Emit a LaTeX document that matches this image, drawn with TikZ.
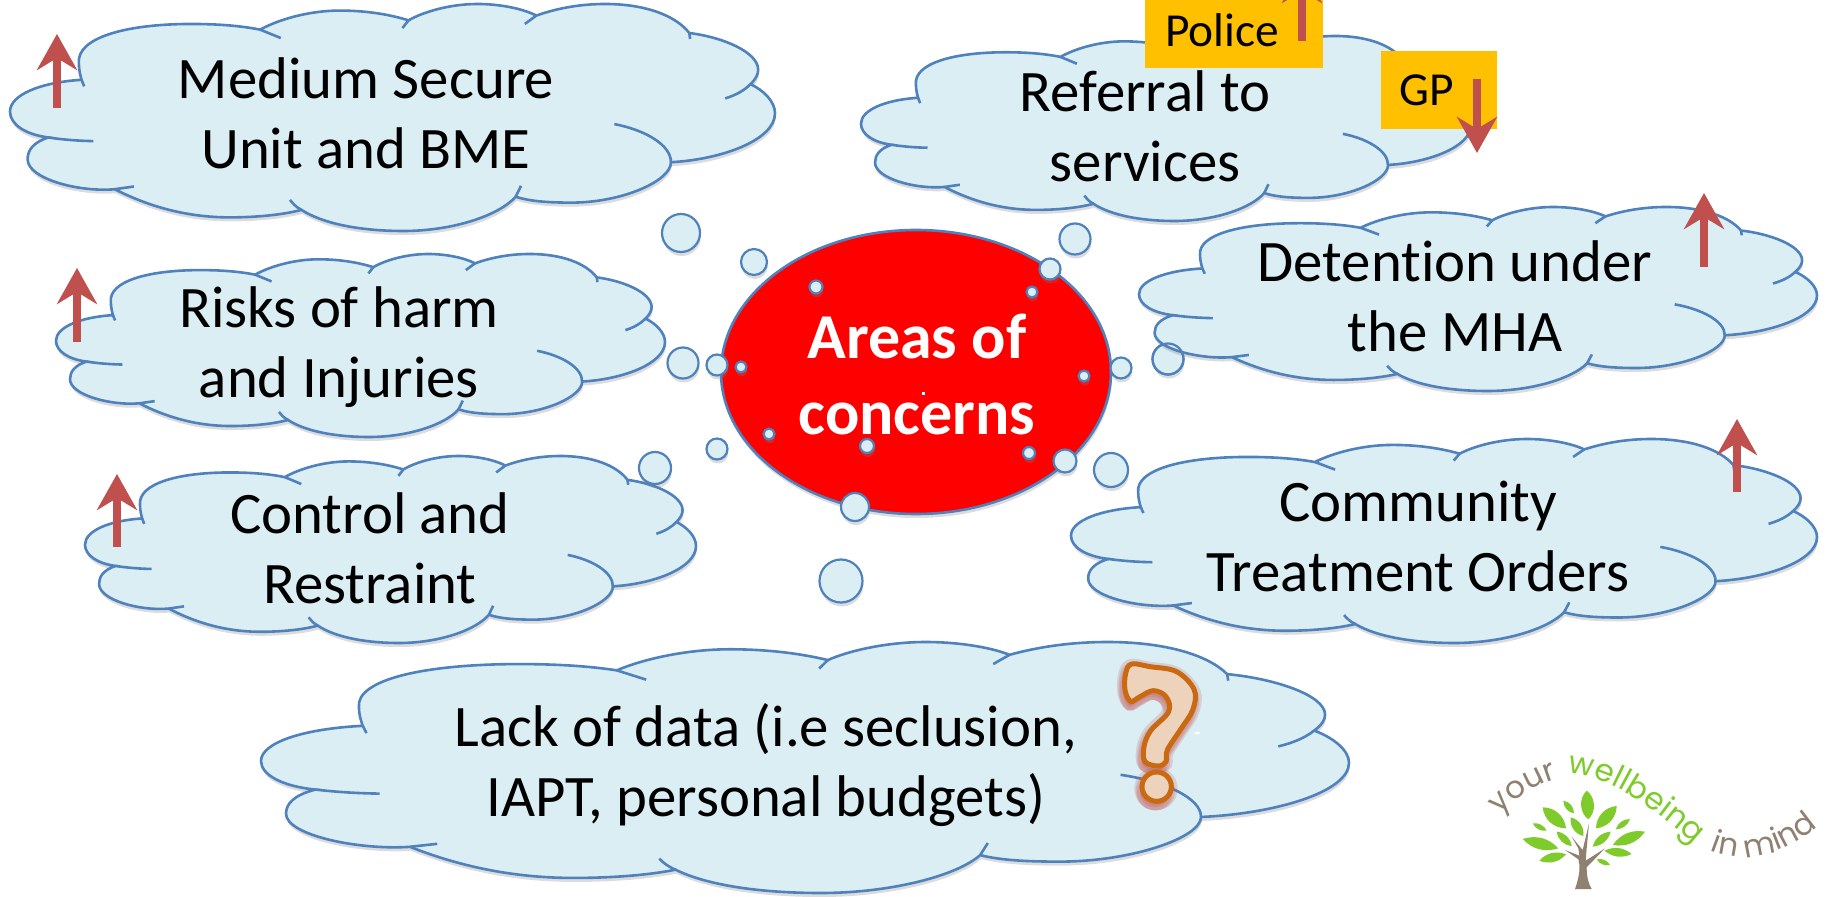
\documentclass[tikz,border=0pt]{standalone}
\usepackage{fontspec}
\setmainfont{Carlito}[Ligatures=NoCommon]
\newfontfamily\logofont{Poppins}
\usepackage{tikz}
\usetikzlibrary{arrows.meta}
\usetikzlibrary{shadows}
\usetikzlibrary{decorations.text}

\definecolor{cloudblue}{HTML}{DBEEF4}
\definecolor{edgeblue}{HTML}{4F81BD}
\definecolor{arrowred}{HTML}{C0504D}
\definecolor{tagamber}{HTML}{FFC000}
\definecolor{leafgreen}{HTML}{7FCB2B}
\definecolor{barkbrown}{HTML}{8F8070}
\definecolor{hookorange}{HTML}{C96A12}
\definecolor{hookpeach}{HTML}{EDD3BC}

\tikzset{
    softshadow/.style={drop shadow={opacity=0.28, shadow xshift=0.4pt, shadow yshift=-2pt}},
    cloudface/.style={draw=edgeblue, fill=cloudblue, line width=1.3pt, softshadow},
    cloudline/.style={draw=edgeblue, line width=1.3pt},
    bubble/.style={draw=edgeblue, fill=cloudblue, line width=1.1pt, softshadow},
    cloudtext/.style={align=center, font=\fontsize{29.4}{35}\selectfont, inner sep=0pt},
    tagbox/.style={fill=tagamber, inner sep=0pt},
    tagtext/.style={font=\fontsize{23.7}{26}\selectfont, inner sep=0pt},
    trend/.style={draw=arrowred, line width=4pt, -{Stealth[length=18pt, width=20pt, inset=6pt]}},
    leaf/.style={fill=leafgreen},
    hookshape/.style={draw=hookorange, fill=hookpeach, line width=2.5pt},
    hookglow/.style={draw=arrowred, fill=arrowred, opacity=0.2},
}

\newcommand{\cloudoutline}{(9.35,33.4)
    .. controls (4,34.5) and (0,40) .. (0,47.4)
    .. controls (0,53) and (2,57.5) .. (5,58.8)
    .. controls (3,61) and (2.3,64.5) .. (2.3,68.4)
    .. controls (2.3,77) and (9,83) .. (13.7,81.6)
    .. controls (18,89) and (23,94) .. (28.7,94)
    .. controls (32,94) and (35.5,93) .. (38.1,90.7)
    .. controls (41,97) and (46,100) .. (51.4,100)
    .. controls (58,100) and (64,93) .. (66.1,84.9)
    .. controls (68,87) and (70.5,87.5) .. (73.4,87.5)
    .. controls (80,87.5) and (86.4,78) .. (86.4,69.7)
    .. controls (93,68.5) and (100,60) .. (100,48.1)
    .. controls (100,43) and (98.5,38) .. (96.8,35.3)
    .. controls (97.5,33) and (97.8,31) .. (97.8,29)
    .. controls (97.8,21) and (93,14.5) .. (88.8,12.8)
    .. controls (87,5) and (83,0) .. (77.8,0)
    .. controls (74,0) and (71,2.5) .. (68.8,5.1)
    .. controls (67,2) and (64,0) .. (61.1,0)
    .. controls (57.5,0) and (54,3.5) .. (52.1,7.2)
    .. controls (49.5,4.5) and (46.5,2.9) .. (43.1,2.9)
    .. controls (39,2.9) and (35,7) .. (32.7,11.3)
    .. controls (30,9.5) and (27,8.8) .. (23.7,8.8)
    .. controls (15,8.8) and (8.7,15) .. (9,26)
    .. controls (9,29) and (9.2,31.5) .. (9.35,33.4) -- cycle}

\newcommand{\cloudtails}{
    (5,58.8) .. controls (7,59.8) and (9,60.3) .. (10.9,60.4)
    (13.7,81.6) -- (16.2,80.4)
    (38.1,90.7) .. controls (37.4,89.5) and (37,88) .. (36.6,86.3)
    (66.1,84.9) -- (66.8,80.1)
    (86.4,69.7) .. controls (86.4,62) and (83,55.5) .. (79,52.9)
    (96.8,35.3) .. controls (96,38) and (95,40) .. (93.5,41.6)
    (88.8,12.8) -- (88.9,15.4)
    (68.8,5.1) -- (67.3,8.8)
    (52.1,7.2) -- (51.3,10.6)
    (32.7,11.3) -- (35.4,15)
    (9.35,33.4) -- (9.7,36.3)}

\newcommand{\thoughtcloud}[4]{
    \begin{scope}[shift={(#1,#2)}, xscale=#3/100, yscale=#4/100]
        \draw[cloudface] \cloudoutline;
        \draw[cloudline] \cloudtails;
    \end{scope}
}

\newcommand{\hookpath}{plot[smooth cycle, tension=0.6] coordinates {(215,72) (270,80) (350,95) (403,150) (398,210) (362,268) (322,330) (318,365) (295,378) (255,365) (252,320) (272,272) (326,215) (318,170) (280,152) (240,170) (212,184) (195,150) (197,100)}}

\begin{document}
\begin{tikzpicture}[x=0.5pt, y=-0.5pt]
        \path[use as bounding box] (0, 0) rectangle (1835, 897);
        \clip (0, 0) rectangle (1835, 897);

        \draw[bubble] (1168, 359) circle[radius=15.5];

        \thoughtcloud{10}{4}{765}{227}
        \thoughtcloud{56}{254}{609}{183}
        \thoughtcloud{85}{456}{611}{187}
        \thoughtcloud{861}{36}{610}{185}
        \thoughtcloud{1139}{207}{678}{184}
        \thoughtcloud{1071}{439}{746}{204}
        \thoughtcloud{261}{642}{1088}{251}

        \draw[draw=edgeblue, fill=red, line width=1.3pt, softshadow] (916, 372) circle[x radius=195, y radius=142];
        \draw[line width=1.1pt, draw=edgeblue] (1168, 359) circle[radius=15.5];

        \foreach \bx/\by/\br in {681/233/19, 754/262/13, 1075/239/15.5, 1050/269/10.5, 816/287/6.5,
                1032/292/5.5, 683/363/15.5, 717/365/10.5, 741/367/5.5, 1084/376/5.5,
                1121/368/10.5, 769/434/5.5, 867/446/7, 717/449/10.5, 1029/453/6,
                1065/461/11.5, 1111/470/17, 855/507/14, 841/581/21.5, 655/468/16} {
            \draw[bubble] (\bx, \by) circle[radius=\br];
        }

        \node[cloudtext] (mediumtext) at (366, 113) {Medium Secure\\Unit and BME};
        \node[cloudtext] (riskstext) at (339, 347) {Risks of harm\\and Injuries};
        \node[cloudtext] (controltext) at (370, 548) {Control and\\Restraint};
        \node[cloudtext] (referraltext) at (1145, 126) {Referral to\\services};
        \node[cloudtext] (detentiontext) at (1455, 296) {Detention under\\the MHA};
        \node[cloudtext] (communitytext) at (1418, 536) {Community\\Treatment Orders};
        \node[cloudtext] (lacktext) at (766, 765) {Lack of data (i.e seclusion,\\IAPT, personal budgets)};
        \node[cloudtext, text=white, font=\fontsize{32}{38}\selectfont\bfseries] (areastext) at (917, 375) {Areas of\\concerns};
        \fill[white] (922, 392) rectangle (925, 395);

        \node[tagbox, minimum width=89pt, minimum height=34pt] (policebox) at (1234, 34) {};
        \node[tagbox, minimum width=58pt, minimum height=39pt] (gpbox) at (1439, 90) {};
        \node[tagtext] (policetext) at (1222, 30) {Police};
        \node[tagtext] (gptext) at (1427, 90) {GP};

        \draw[trend] (57, 108) -- (57, 34);
        \draw[trend] (77, 342) -- (77, 268);
        \draw[trend] (117, 547) -- (117, 474);
        \draw[trend] (1302, 41) -- (1302, -33);
        \draw[trend] (1477, 79) -- (1477, 153);
        \draw[trend] (1704, 267) -- (1704, 193);
        \draw[trend] (1737, 492) -- (1737, 419);

        \begin{scope}[shift={(1060, 640)}, scale=1/3]
            \foreach \gx/\gw in {2/7, 4/5, 6/3} {
                \begin{scope}[shift={(-\gx, 3*\gx)}]
                    \draw[hookglow, line width=\gw pt] \hookpath;
                    \draw[hookglow, line width=\gw pt] (290, 440) circle[radius=44];
                \end{scope}
            }
            \draw[hookshape] \hookpath;
            \draw[hookshape] (290, 440) circle[radius=44];
            \fill[white] (405, 276) rectangle (420, 282);
        \end{scope}

        \begin{scope}[shift={(1450, 740)}, scale=1/3]
            \fill[barkbrown] (375,447) .. controls (388,410) and (392,380) .. (385,358) -- (345,330) -- (388,347) -- (385,325) -- (365,290) -- (398,330) -- (417,250) -- (410,325) -- (407,362) -- (465,325) -- (410,382) .. controls (410,410) and (415,430) .. (425,447) -- cycle;
            \foreach \ax/\ay/\cx/\cy/\bend in {410/152/415/238/50, 340/182/372/220/40, 278/202/348/265/42,
                    362/232/400/288/42, 248/250/290/272/35, 218/297/325/325/32, 320/275/365/318/38,
                    268/362/348/343/35, 500/198/438/265/42, 540/237/497/268/35, 585/275/488/315/32,
                    482/275/428/320/35, 545/342/463/332/32, 440/358/480/375/35} {
                \fill[leaf] (\ax, \ay) to[bend left=\bend] (\cx, \cy) to[bend left=\bend] (\ax, \ay);
            }
            \path[decorate, decoration={text along path, text align={left}, text={|\logofont\fontsize{15.5}{15.5}\selectfont\color{barkbrown}|your}}]
                (150,225) .. controls (195,175) and (250,135) .. (335,112);
            \path[decorate, decoration={text along path, text align={left}, text={|\logofont\fontsize{15.5}{15.5}\selectfont\color{leafgreen}|wellbeing}}]
                (352,100) .. controls (470,105) and (590,185) .. (760,335);
            \path[decorate, decoration={text along path, text align={left}, text={|\logofont\fontsize{15.5}{15.5}\selectfont\color{barkbrown}|in mind}}]
                (780,332) .. controls (880,375) and (1030,345) .. (1135,225);
        \end{scope}
    \end{tikzpicture}
\end{document}
